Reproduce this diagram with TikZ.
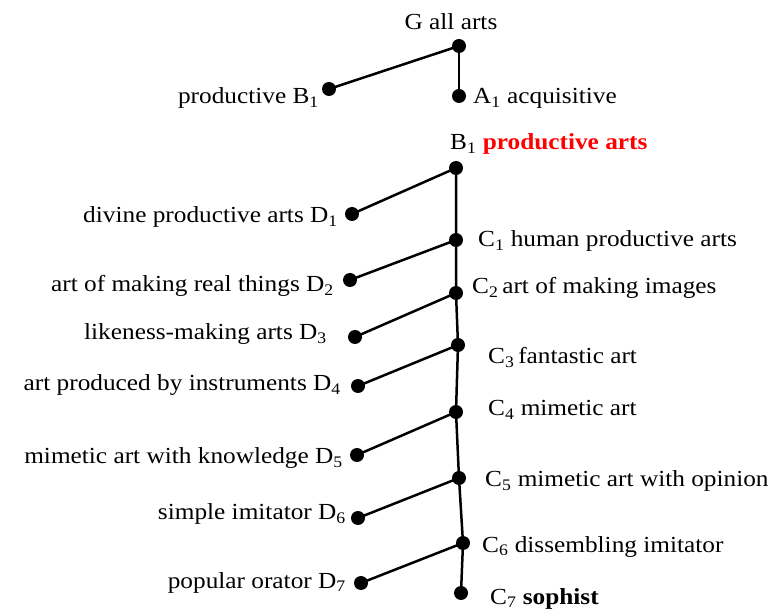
\documentclass[tikz,border=0pt]{standalone}
\usepackage{fontspec}
\setmainfont{Liberation Serif}[FakeStretch=1.1]
\definecolor{redlab}{RGB}{255,0,0}
\begin{document}
\begin{tikzpicture}[x=1pt,y=-1pt,
  dot/.style={circle,fill=black,inner sep=0pt,minimum size=14pt},
  edge/.style={line width=2.5pt},
  lab/.style={inner sep=0pt,font=\fontsize{23}{26}\selectfont},
  lw/.style={lab,anchor=base west},
  le/.style={lab,anchor=base east}]
\useasboundingbox (0,0) rectangle (772,612);
% dots
\node[dot] (g) at (459,46) {};
\node[dot] (b) at (329,89) {};
\node[dot] (a) at (459,96) {};
\node[dot] (p) at (456,168) {};
\node[dot] (d1) at (352,214) {};
\node[dot] (c1) at (456,240) {};
\node[dot] (d2) at (350,280) {};
\node[dot] (c2) at (456,293) {};
\node[dot] (d3) at (355,337) {};
\node[dot] (c3) at (458,345) {};
\node[dot] (d4) at (358,386) {};
\node[dot] (c4) at (456,412) {};
\node[dot] (d5) at (357,455) {};
\node[dot] (c5) at (459,478) {};
\node[dot] (d6) at (358,518) {};
\node[dot] (c6) at (463,543) {};
\node[dot] (d7) at (361,583) {};
\node[dot] (c7) at (461,593) {};
% connectors
\draw[edge] (g.center) -- (b.center);
\draw[edge] (g.center) -- (a.center);
\draw[edge] (p.center) -- (c1.center) -- (c2.center) -- (c3.center) -- (c4.center) -- (c5.center) -- (c6.center) -- (c7.center);
\draw[edge] (p.center) -- (d1.center);
\draw[edge] (c1.center) -- (d2.center);
\draw[edge] (c2.center) -- (d3.center);
\draw[edge] (c3.center) -- (d4.center);
\draw[edge] (c4.center) -- (d5.center);
\draw[edge] (c5.center) -- (d6.center);
\draw[edge] (c6.center) -- (d7.center);
% labels
\node[lab,anchor=base] (lg) at (451,30) {G all arts};
\node[le] (lb) at (319,104) {productive B\textsubscript{1}};
\node[lw] (la) at (473,104) {A\textsubscript{1} acquisitive};
\node[lw] (lp) at (450,150) {B\textsubscript{1} \textcolor{redlab}{\textbf{productive arts}}};
\node[le] (ld1) at (338,223) {divine productive arts D\textsubscript{1}};
\node[lw] (lc1) at (478,247) {C\textsubscript{1} human productive arts};
\node[le] (ld2) at (334,292) {art of making real things D\textsubscript{2}};
\node[lw] (lc2) at (472,294) {C\textsubscript{2}\,art of making images};
\node[le] (ld3) at (327,340) {likeness-making arts D\textsubscript{3}};
\node[lw] (lc3) at (488,364) {C\textsubscript{3}\,fantastic art};
\node[le] (ld4) at (341,391) {art produced by instruments D\textsubscript{4}};
\node[lw] (lc4) at (488,416) {C\textsubscript{4} mimetic art};
\node[le] (ld5) at (343,464) {mimetic art with knowledge D\textsubscript{5}};
\node[lw] (lc5) at (485,487) {C\textsubscript{5} mimetic art with opinion};
\node[le] (ld6) at (346,520) {simple imitator D\textsubscript{6}};
\node[lw] (lc6) at (482,552) {C\textsubscript{6} dissembling imitator};
\node[le] (ld7) at (346,588) {popular orator D\textsubscript{7}};
\node[lw] (lc7) at (490,604) {C\textsubscript{7} \textbf{sophist}};
\end{tikzpicture}
\end{document}
